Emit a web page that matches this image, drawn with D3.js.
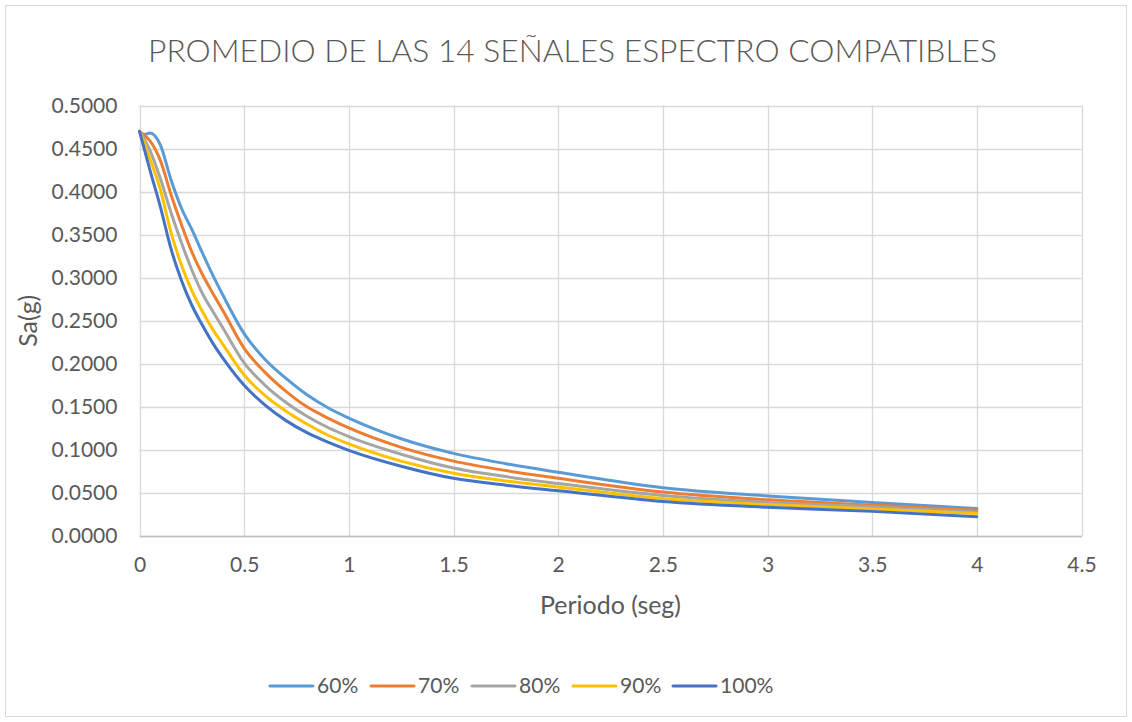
<!DOCTYPE html>
<html>
<head>
<meta charset="utf-8">
<script src="https://cdn.jsdelivr.net/npm/d3@7"></script>
<style>
  html, body { margin: 0; padding: 0; background: #ffffff; }
  svg { display: block; }
  text { font-family: "Lato", "Open Sans", sans-serif; fill: #595959; }
</style>
</head>
<body>
<svg id="chart" width="1132" height="722"></svg>
<script>
// ---- Data ----
const title = "PROMEDIO DE LAS 14 SEÑALES ESPECTRO COMPATIBLES";
const xTitle = "Periodo (seg)";
const yTitle = "Sa(g)";
const periods = [0, 0.02, 0.05, 0.1, 0.15, 0.2, 0.25, 0.3, 0.35, 0.4, 0.5, 0.6, 0.7, 0.8, 0.9, 1.0, 1.25, 1.5, 1.75, 2.0, 2.5, 3.0, 3.5, 4.0];
const seriesNames = ["60%", "70%", "80%", "90%", "100%"];
const sa60  = [0.470, 0.466, 0.468, 0.454, 0.414, 0.381, 0.356, 0.329, 0.303, 0.279, 0.235, 0.205, 0.183, 0.164, 0.149, 0.137, 0.113, 0.096, 0.084, 0.074, 0.056, 0.0465, 0.039, 0.032];
const sa70  = [0.470, 0.466, 0.459, 0.436, 0.397, 0.362, 0.330, 0.304, 0.282, 0.261, 0.218, 0.190, 0.168, 0.150, 0.137, 0.1255, 0.103, 0.087, 0.076, 0.067, 0.051, 0.042, 0.036, 0.030];
const sa80  = [0.470, 0.462, 0.448, 0.415, 0.376, 0.341, 0.309, 0.282, 0.261, 0.241, 0.201, 0.175, 0.155, 0.139, 0.126, 0.1155, 0.095, 0.079, 0.069, 0.061, 0.047, 0.039, 0.034, 0.028];
const sa90  = [0.470, 0.458, 0.438, 0.402, 0.353, 0.315, 0.285, 0.261, 0.240, 0.222, 0.187, 0.163, 0.145, 0.130, 0.117, 0.107, 0.087, 0.0728, 0.064, 0.057, 0.0435, 0.0365, 0.0315, 0.026];
const sa100 = [0.470, 0.452, 0.425, 0.382, 0.334, 0.297, 0.268, 0.245, 0.224, 0.206, 0.175, 0.152, 0.134, 0.120, 0.109, 0.0995, 0.081, 0.067, 0.059, 0.0525, 0.040, 0.0333, 0.0286, 0.0225];
const seriesValues = [sa60, sa70, sa80, sa90, sa100];
const seriesColors = ["#5B9BD5", "#ED7D31", "#A5A5A5", "#FFC000", "#4472C4"];
const xTicks = [0, 0.5, 1, 1.5, 2, 2.5, 3, 3.5, 4, 4.5];
const yTicks = [0, 0.05, 0.1, 0.15, 0.2, 0.25, 0.3, 0.35, 0.4, 0.45, 0.5];

// ---- Layout ----
const svg = d3.select("#chart");
const W = 1132, H = 722;
const plot = { left: 139.5, right: 1081.5, top: 105.5, bottom: 536 };

const x = d3.scaleLinear().domain([0, 4.5]).range([plot.left, plot.right]);
const y = d3.scaleLinear().domain([0, 0.5]).range([plot.bottom, plot.top]);

// chart border
svg.append("rect")
  .attr("x", 5.5).attr("y", 5.5)
  .attr("width", W - 11).attr("height", H - 11)
  .attr("fill", "#ffffff").attr("stroke", "#d9d9d9").attr("stroke-width", 1);

// helper: fit font size to a target width
function fitSize(str, targetWidth, probeSize, weight) {
  const t = svg.append("text").attr("font-size", probeSize).attr("font-weight", weight || 400).text(str);
  const w = t.node().getComputedTextLength();
  t.remove();
  return probeSize * targetWidth / w;
}

// title
const titleSize = fitSize(title, 849, 28, 300);
svg.append("text")
  .attr("x", 572.5).attr("y", 62)
  .attr("text-anchor", "middle")
  .attr("font-size", titleSize)
  .attr("font-weight", 300)
  .text(title);

// gridlines
const grid = svg.append("g");
grid.selectAll("line.h").data(yTicks).join("line")
  .attr("x1", plot.left).attr("x2", plot.right)
  .attr("y1", d => Math.round(y(d)) + 0.5).attr("y2", d => Math.round(y(d)) + 0.5)
  .attr("stroke", "#d9d9d9").attr("stroke-width", 1.3);
grid.selectAll("line.v").data(xTicks).join("line")
  .attr("y1", plot.top).attr("y2", plot.bottom)
  .attr("x1", d => Math.round(x(d)) + 0.5).attr("x2", d => Math.round(x(d)) + 0.5)
  .attr("stroke", "#d9d9d9").attr("stroke-width", 1.3);

// axes
const tickSize = fitSize("0.5000", 66, 20);
const yAxis = svg.append("g")
  .attr("transform", `translate(${plot.left},0)`)
  .call(d3.axisLeft(y).tickValues(yTicks).tickFormat(d3.format(".4f")).tickSize(0).tickPadding(22));
yAxis.select(".domain").remove();
yAxis.selectAll("text").attr("font-size", tickSize).attr("font-family", null).attr("fill", "#595959");

const xAxis = svg.append("g")
  .attr("transform", `translate(0,${plot.bottom})`)
  .call(d3.axisBottom(x).tickValues(xTicks).tickFormat(d => d3.format("")(d)).tickSize(0).tickPadding(21));
xAxis.select(".domain").attr("stroke", "#bfbfbf").attr("stroke-width", 1.3);
xAxis.selectAll("text").attr("font-size", tickSize).attr("font-family", null).attr("fill", "#595959");

// axis titles
const axTitleSize = fitSize(xTitle, 141, 20);
svg.append("text")
  .attr("x", (plot.left + plot.right) / 2).attr("y", 614)
  .attr("text-anchor", "middle").attr("font-size", axTitleSize)
  .text(xTitle);
svg.append("text")
  .attr("transform", `translate(37,${(plot.top + plot.bottom) / 2}) rotate(-90)`)
  .attr("text-anchor", "middle").attr("font-size", axTitleSize)
  .text(yTitle);

// lines
const line = d3.line()
  .x(d => x(d[0]))
  .y(d => y(d[1]))
  .curve(d3.curveMonotoneX);

svg.append("g").selectAll("path")
  .data(seriesValues)
  .join("path")
  .attr("d", vals => line(periods.map((p, i) => [p, vals[i]])))
  .attr("fill", "none")
  .attr("stroke", (d, i) => seriesColors[i])
  .attr("stroke-width", 3)
  .attr("stroke-linejoin", "round")
  .attr("stroke-linecap", "round");

// legend
const legend = svg.append("g");
const legendX = [270, 371, 472, 573, 673];
const legendY = 686;
seriesNames.forEach((name, i) => {
  const g = legend.append("g").attr("transform", `translate(${legendX[i]},${legendY})`);
  g.append("line").attr("x1", 0).attr("x2", 43).attr("y1", 0).attr("y2", 0)
    .attr("stroke", seriesColors[i]).attr("stroke-width", 3).attr("stroke-linecap", "round");
  g.append("text").attr("x", 47).attr("y", 0).attr("dy", "0.35em")
    .attr("font-size", tickSize).text(name);
});
</script>
</body>
</html>
